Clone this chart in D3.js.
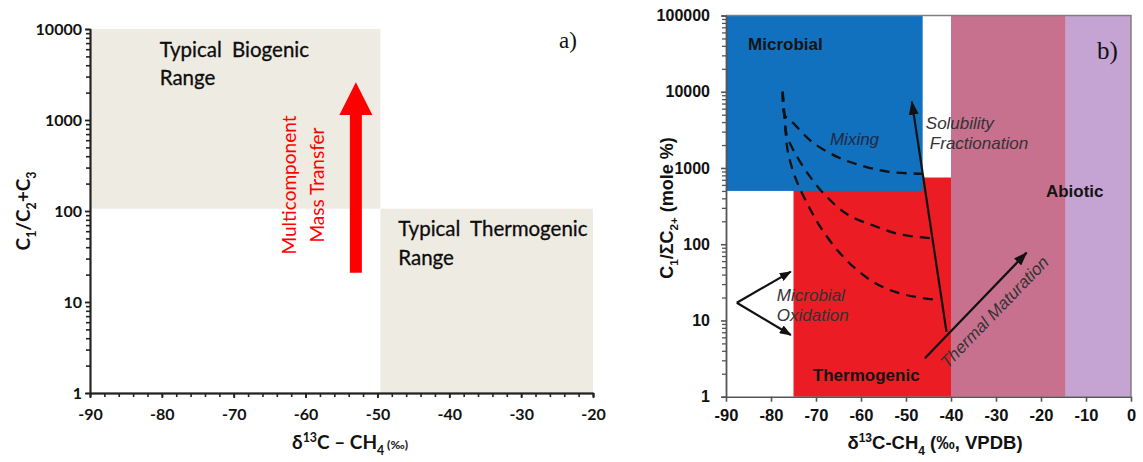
<!DOCTYPE html>
<html>
<head>
<meta charset="utf-8">
<script src="https://cdn.jsdelivr.net/npm/d3@7"></script>
<style>
  html, body { margin: 0; padding: 0; background: #fff; }
  svg { display: block; }
</style>
</head>
<body>
<svg id="chart" width="1143" height="462"></svg>
<script>
// ---------- Panel a: C1/(C2+C3) against δ13C of methane ----------
const aXDomain = [-90, -20];
const aYDomain = [1, 10000];
const aXTicks = [-90, -80, -70, -60, -50, -40, -30, -20];
const aYTicks = [1, 10, 100, 1000, 10000];
const aRanges = [
  { lines: ["Typical Biogenic", "Range"], x0: -90, x1: -49.6, y0: 106, y1: 10000, lx: -80.3, ly: 4960 },
  { lines: ["Typical Thermogenic", "Range"], x0: -49.6, x1: -20, y0: 1, y1: 106, lx: -47.1, ly: 53 }
];
const aTransferArrow = { x: -53, from: 21, head: 1135, to: 2600 };
const aTransferLabel = ["Multicomponent", "Mass Transfer"];
const aTransferLabelCenter = 193;

// ---------- Panel b: C1/ΣC2+ against δ13C-CH4 (VPDB) ----------
const bXDomain = [-90, 0];
const bYDomain = [1, 100000];
const bXTicks = [-90, -80, -70, -60, -50, -40, -30, -20, -10, 0];
const bYTicks = [1, 10, 100, 1000, 10000, 100000];
const bFields = [
  { name: "Thermogenic", x0: -75, x1: -40, y0: 1, y1: 750, color: "#ec1c24" },
  { name: "Microbial", x0: -90, x1: -46.3, y0: 500, y1: 100000, color: "#1271bf" },
  { name: "Abiotic", x0: -40, x1: -14.5, y0: 1, y1: 100000, color: "#c8718f" },
  { name: "Abiotic (heavy)", x0: -14.5, x1: 0, y0: 1, y1: 100000, color: "#c5a3d2" }
];
const bFieldLabels = [
  { text: "Microbial", x: -85.1, y: 35500 },
  { text: "Thermogenic", x: -70.7, y: 1.61 },
  { text: "Abiotic", x: -18.9, y: 418 }
];
const bMixingCurves = [
  [[-77.4, 10000], [-77.0, 5000], [-75.1, 3900], [-70.9, 2200], [-65.3, 1400], [-59.8, 1070], [-53.8, 890], [-46.5, 840]],
  [[-77.4, 10000], [-76.9, 4300], [-76.5, 2700], [-74.7, 1580], [-71.3, 764], [-67.6, 418], [-62.9, 243], [-57.6, 179], [-51.6, 136], [-44.4, 120]],
  [[-77.4, 10000], [-76.9, 3700], [-76.2, 1580], [-74.4, 698], [-71.8, 328], [-68.9, 164], [-64.9, 79], [-60.9, 46], [-56.0, 29], [-50.0, 21.6], [-42.6, 18.5]]
];
const bArrows = [
  { name: "solubility", from: [-41, 7.1], to: [-48.7, 7400], head: "big" },
  { name: "maturation", from: [-45.8, 3.2], to: [-23.2, 77.6], head: "big" },
  { name: "oxidation-up", from: [-87.6, 17.1], to: [-75.6, 43.7], head: "small" },
  { name: "oxidation-down", from: [-87.6, 17.1], to: [-75.6, 6.45], head: "small" }
];
const bNotes = [
  { text: "Mixing", x: -66.9, y: 2010, color: "#1e2a44", rotate: 0 },
  { text: "Solubility", x: -45.6, y: 3260, color: "#333", rotate: 0 },
  { text: "Fractionation", x: -44.7, y: 1780, color: "#333", rotate: 0 },
  { text: "Microbial", x: -78.7, y: 18.0, color: "#333", rotate: 0 },
  { text: "Oxidation", x: -78.7, y: 9.85, color: "#333", rotate: 0 },
  { text: "Thermal Maturation", x: -40.8, y: 2.3, color: "#333", rotate: -46 }
];

const svg = d3.select("#chart");
const fontA = "Lato, 'Open Sans', sans-serif";
const fontB = "'Liberation Sans', Arial, sans-serif";
const fontSerif = "'Liberation Serif', 'DejaVu Serif', serif";
const plainNumber = d => String(d);

// writes a run of text pieces, some set as sub- or superscripts
function rich(sel, parts, base) {
  let shift = 0;
  parts.forEach(p => {
    const target = p.sub ? base * 0.3 : p.sup ? -base * 0.38 : 0;
    const ts = sel.append("tspan").text(p.t).attr("dy", target - shift);
    if (p.sub || p.sup) ts.attr("font-size", base * 0.65);
    if (p.size) ts.attr("font-size", p.size);
    shift = target;
  });
}

function minorLogTicks(domain) {
  const out = [];
  for (let e = Math.log10(domain[0]); e < Math.log10(domain[1]); e++) {
    for (let m = 2; m <= 9; m++) out.push(m * Math.pow(10, e));
  }
  return out;
}

function styleAxis(g, color, width) {
  g.select(".domain").attr("stroke", color).attr("stroke-width", width);
  g.selectAll(".tick line").attr("stroke", color).attr("stroke-width", width);
}

// ================= Panel a =================
const xA = d3.scaleLinear().domain(aXDomain).range([90, 593]);
const yA = d3.scaleLog().domain(aYDomain).range([393, 29]);
const gA = svg.append("g");

gA.selectAll("rect.range").data(aRanges).join("rect")
  .attr("class", "range")
  .attr("x", d => xA(d.x0))
  .attr("y", d => yA(d.y1))
  .attr("width", d => xA(d.x1) - xA(d.x0))
  .attr("height", d => yA(d.y0) - yA(d.y1))
  .attr("fill", "#edebe2");

aRanges.forEach(d => {
  const t = gA.append("text")
    .attr("x", xA(d.lx)).attr("y", yA(d.ly))
    .attr("font-family", fontA).attr("font-size", 20.5)
    .attr("word-spacing", 5).attr("fill", "#0d0d0d")
    .attr("stroke", "#0d0d0d").attr("stroke-width", 0.3);
  d.lines.forEach((l, i) => t.append("tspan").attr("x", xA(d.lx)).attr("dy", i ? 28.5 : 0).text(l));
});

// multicomponent mass transfer arrow
{
  const ax = xA(aTransferArrow.x);
  const yb = yA(aTransferArrow.from), yh = yA(aTransferArrow.head), yt = yA(aTransferArrow.to);
  const sw = 6, hw = 16.5;
  const pts = [[ax - sw, yb], [ax + sw, yb], [ax + sw, yh], [ax + hw, yh], [ax, yt], [ax - hw, yh], [ax - sw, yh]];
  gA.append("path").attr("d", d3.line()(pts) + "Z").attr("fill", "#ff0000");
  const cy = yA(aTransferLabelCenter);
  [ax - 60, ax - 32].forEach((lx, i) => {
    gA.append("text")
      .attr("transform", `translate(${lx},${cy}) rotate(-90)`)
      .attr("text-anchor", "middle")
      .attr("font-family", fontA).attr("font-size", 19)
      .attr("fill", "#ff0000")
      .text(aTransferLabel[i]);
  });
}

// axes
const aXMinor = d3.range(aXDomain[0], aXDomain[1] + 0.1, 2);
const gAxm = gA.append("g").attr("transform", "translate(0,393)")
  .call(d3.axisBottom(xA).tickValues(aXMinor).tickSize(4).tickFormat(""));
styleAxis(gAxm, "#222", 1.6);
const gAx = gA.append("g").attr("transform", "translate(0,393)")
  .call(d3.axisBottom(xA).tickValues(aXTicks).tickSize(5).tickPadding(11).tickSizeOuter(0).tickFormat(plainNumber));
styleAxis(gAx, "#222", 1.8);
gAx.selectAll("text").attr("font-family", fontA).attr("font-size", 16).attr("font-weight", "bold").attr("fill", "#111");

const gAym = gA.append("g").attr("transform", "translate(90,0)")
  .call(d3.axisLeft(yA).tickValues(minorLogTicks(aYDomain)).tickSize(4).tickFormat(""));
styleAxis(gAym, "#222", 1.6);
const gAy = gA.append("g").attr("transform", "translate(90,0)")
  .call(d3.axisLeft(yA).tickValues(aYTicks).tickSize(5).tickPadding(3).tickSizeOuter(0).tickFormat(plainNumber));
styleAxis(gAy, "#222", 1.8);
gAy.selectAll("text").attr("font-family", fontA).attr("font-size", 16).attr("font-weight", "bold").attr("fill", "#111");

// axis titles
{
  const t = gA.append("text").attr("x", 350).attr("y", 449).attr("text-anchor", "middle")
    .attr("font-family", fontA).attr("font-size", 19).attr("font-weight", "bold").attr("fill", "#111");
  rich(t, [{ t: "δ" }, { t: "13", sup: true }, { t: "C – CH" }, { t: "4", sub: true }, { t: " (‰)", size: 12 }], 19);
  const ty = gA.append("text").attr("transform", "translate(30,211) rotate(-90)").attr("text-anchor", "middle")
    .attr("font-family", fontA).attr("font-size", 19).attr("font-weight", "bold").attr("fill", "#111");
  rich(ty, [{ t: "C" }, { t: "1", sub: true }, { t: "/C" }, { t: "2", sub: true }, { t: "+C" }, { t: "3", sub: true }], 19);
}
gA.append("text").attr("x", 559).attr("y", 48)
  .attr("font-family", fontSerif).attr("font-size", 23).attr("fill", "#111").text("a)");

// ================= Panel b =================
const xB = d3.scaleLinear().domain(bXDomain).range([726, 1131]);
const yB = d3.scaleLog().domain(bYDomain).range([396.7, 15.5]);
const gB = svg.append("g");

gB.selectAll("rect.field").data(bFields).join("rect")
  .attr("class", "field")
  .attr("x", d => xB(d.x0))
  .attr("y", d => yB(d.y1))
  .attr("width", d => xB(d.x1) - xB(d.x0))
  .attr("height", d => yB(d.y0) - yB(d.y1))
  .attr("fill", d => d.color);

// mixing curves
const curveLine = d3.line().x(d => xB(d[0])).y(d => yB(d[1])).curve(d3.curveCatmullRom.alpha(0.5));
gB.selectAll("path.mix").data(bMixingCurves).join("path")
  .attr("class", "mix")
  .attr("d", curveLine)
  .attr("fill", "none").attr("stroke", "#111").attr("stroke-width", 2.3)
  .attr("stroke-dasharray", "10,7");

// arrowheads
const defs = svg.append("defs");
defs.append("marker").attr("id", "head-big")
  .attr("markerUnits", "userSpaceOnUse").attr("markerWidth", 15).attr("markerHeight", 10)
  .attr("refX", 13).attr("refY", 5).attr("orient", "auto")
  .append("path").attr("d", "M0,0 L14,5 L0,10 Z").attr("fill", "#111");
defs.append("marker").attr("id", "head-small")
  .attr("markerUnits", "userSpaceOnUse").attr("markerWidth", 12).attr("markerHeight", 9)
  .attr("refX", 11).attr("refY", 4.5).attr("orient", "auto")
  .append("path").attr("d", "M0,0 L12,4.5 L0,9 Z").attr("fill", "#111");

gB.selectAll("line.arrow").data(bArrows).join("line")
  .attr("class", "arrow")
  .attr("x1", d => xB(d.from[0])).attr("y1", d => yB(d.from[1]))
  .attr("x2", d => xB(d.to[0])).attr("y2", d => yB(d.to[1]))
  .attr("stroke", "#111").attr("stroke-width", 2.2)
  .attr("marker-end", d => `url(#head-${d.head})`);

// field names
gB.selectAll("text.field").data(bFieldLabels).join("text")
  .attr("class", "field")
  .attr("x", d => xB(d.x)).attr("y", d => yB(d.y))
  .attr("font-family", fontB).attr("font-size", 17).attr("font-weight", "bold").attr("fill", "#141414")
  .text(d => d.text);

// process notes
gB.selectAll("text.note").data(bNotes).join("text")
  .attr("class", "note")
  .attr("transform", d => `translate(${xB(d.x)},${yB(d.y)}) rotate(${d.rotate})`)
  .attr("font-family", fontB).attr("font-size", 17).attr("font-style", "italic").attr("fill", d => d.color)
  .text(d => d.text);

// frame and axes
gB.append("path")
  .attr("d", `M${xB(bXDomain[0])},${yB(bYDomain[1])} H${xB(bXDomain[1])} V${yB(bYDomain[0])}`)
  .attr("fill", "none").attr("stroke", "#808080").attr("stroke-width", 1.5);

const gBx = gB.append("g").attr("transform", `translate(0,${yB(bYDomain[0])})`)
  .call(d3.axisBottom(xB).tickValues(bXTicks).tickSize(5).tickPadding(8).tickSizeOuter(0).tickFormat(plainNumber));
styleAxis(gBx, "#555", 1.6);
gBx.selectAll("text").attr("font-family", fontB).attr("font-size", 16.5).attr("font-weight", "bold").attr("fill", "#111");

const gBym = gB.append("g").attr("transform", `translate(${xB(bXDomain[0])},0)`)
  .call(d3.axisLeft(yB).tickValues(minorLogTicks(bYDomain)).tickSize(4).tickFormat(""));
styleAxis(gBym, "#555", 1.3);
const gBy = gB.append("g").attr("transform", `translate(${xB(bXDomain[0])},0)`)
  .call(d3.axisLeft(yB).tickValues(bYTicks).tickSize(5).tickPadding(11).tickSizeOuter(0).tickFormat(plainNumber));
styleAxis(gBy, "#555", 1.6);
gBy.selectAll("text").attr("font-family", fontB).attr("font-size", 16).attr("font-weight", "bold").attr("fill", "#111");

{
  const t = gB.append("text").attr("x", 935).attr("y", 449).attr("text-anchor", "middle")
    .attr("font-family", fontB).attr("font-size", 18.5).attr("font-weight", "bold").attr("fill", "#111");
  rich(t, [{ t: "δ" }, { t: "13", sup: true }, { t: "C-CH" }, { t: "4", sub: true }, { t: " (‰, VPDB)" }], 18.5);
  const ty = gB.append("text").attr("transform", "translate(673,208) rotate(-90)").attr("text-anchor", "middle")
    .attr("font-family", fontB).attr("font-size", 18).attr("font-weight", "bold").attr("fill", "#111");
  rich(ty, [{ t: "C" }, { t: "1", sub: true }, { t: "/ΣC" }, { t: "2+", sub: true }, { t: " (mole %)" }], 18);
}
gB.append("text").attr("x", 1097).attr("y", 59)
  .attr("font-family", fontSerif).attr("font-size", 25).attr("fill", "#111").text("b)");
</script>
</body>
</html>
